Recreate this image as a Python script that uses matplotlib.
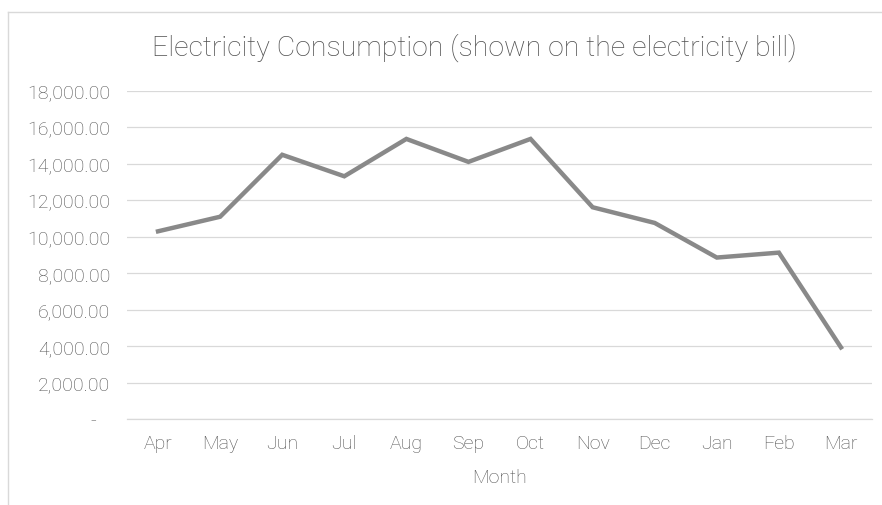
import matplotlib.pyplot as plt
from matplotlib.ticker import FuncFormatter, MultipleLocator
from matplotlib.lines import Line2D

months = ['Apr', 'May', 'Jun', 'Jul', 'Aug', 'Sep', 'Oct', 'Nov', 'Dec', 'Jan', 'Feb', 'Mar']
consumption = [10300, 11100, 14500, 13320, 15370, 14110, 15370, 11620, 10760, 8860, 9130, 3930]

plt.rcParams['font.family'] = ['Roboto', 'DejaVu Sans']
plt.rcParams['font.weight'] = 'light'
plt.rcParams['axes.labelweight'] = 'light'

text_grey = '#505050'
grid_grey = '#d9d9d9'

fig = plt.figure(figsize=(8.82, 5.06), dpi=100)
ax = fig.add_axes([127 / 882, 1 - 420 / 506, 745 / 882, 328 / 506])

x = range(len(months))
ax.plot(x, consumption, color='#898989', linewidth=3.2, solid_joinstyle='miter')

ax.set_xlim(-0.5, len(months) - 0.5)
ax.set_ylim(0, 18000)
ax.yaxis.set_major_locator(MultipleLocator(2000))
ax.set_xticks(list(x))
ax.set_xticklabels(months)


def money(v, pos):
    if v == 0:
        return '-   '
    return f'{v:,.2f}'


ax.yaxis.set_major_formatter(FuncFormatter(money))

ax.grid(axis='y', color=grid_grey, linewidth=0.9)
ax.set_axisbelow(True)
for s in ['top', 'right', 'left']:
    ax.spines[s].set_visible(False)
ax.spines['bottom'].set_color(grid_grey)
ax.spines['bottom'].set_linewidth(0.9)
ax.tick_params(length=0, labelsize=14, labelcolor=text_grey)
ax.tick_params(axis='y', pad=12)
ax.tick_params(axis='x', pad=11)

ax.set_xlabel('Month', fontsize=14, color=text_grey, labelpad=11)
fig.text(474 / 882, 1 - 48 / 506, 'Electricity Consumption (shown on the electricity bill)',
         fontsize=20.5, color=text_grey, ha='center', va='center')

# chart area border (cut off at the right and bottom)
fig.add_artist(Line2D([8 / 882, 8 / 882], [0, 1 - 13 / 506], transform=fig.transFigure,
                      color=grid_grey, linewidth=1))
fig.add_artist(Line2D([8 / 882, 1], [1 - 13 / 506, 1 - 13 / 506], transform=fig.transFigure,
                      color=grid_grey, linewidth=1))

plt.savefig('out.png', dpi=100)
